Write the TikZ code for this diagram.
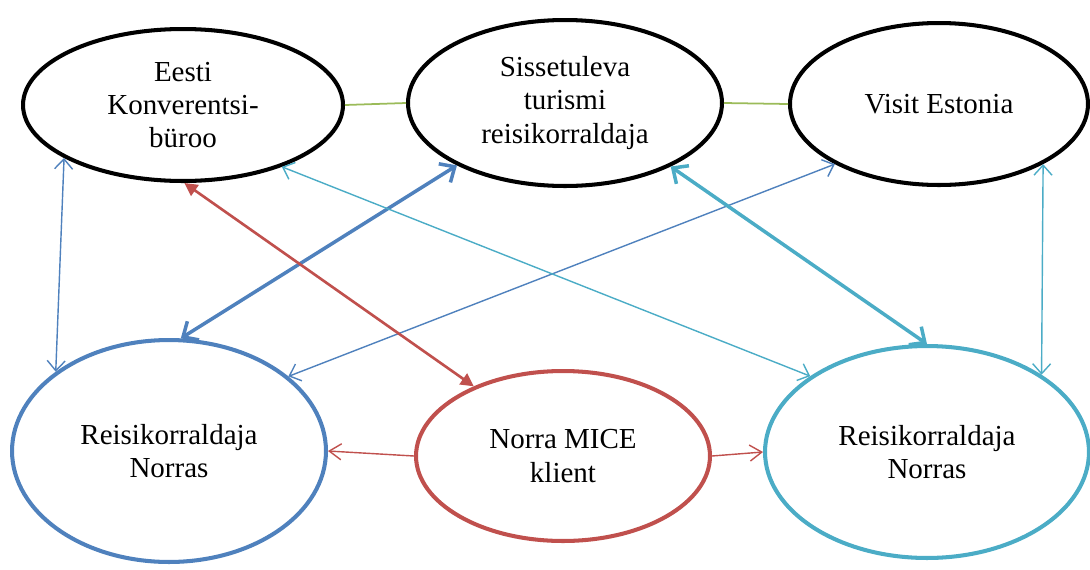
\documentclass[tikz,border=0pt]{standalone}
\usepackage{fontspec}
\setmainfont{Liberation Serif}
\usepackage{xcolor}
\usepackage{tikz}
\usetikzlibrary{shapes.geometric}
\usetikzlibrary{arrows.meta}

\definecolor{kblue}{HTML}{4F81BD}
\definecolor{kred}{HTML}{C0504D}
\definecolor{kteal}{HTML}{4BACC6}
\definecolor{kgreen}{HTML}{9BBB59}

\tikzset{
  osapool/.style={ellipse, draw, line width=2.3pt, inner sep=0pt, align=center,
    font=\fontsize{16.5}{19}\selectfont},
  peen/.style={line width=0.8pt, {Straight Barb[length=2mm,width=3.6mm]}-{Straight Barb[length=2mm,width=3.6mm]}},
  paks/.style={line width=2pt, {Straight Barb[length=2.4mm,width=4.4mm]}-{Straight Barb[length=2.4mm,width=4.4mm]}},
  yks/.style={line width=0.8pt, -{Straight Barb[length=2.4mm,width=3.2mm]}}
}

\begin{document}
\begin{tikzpicture}[x=0.02cm, y=-0.02cm]
\useasboundingbox (0,0) rectangle (1090,569);

\node[osapool, minimum width=6.4cm, minimum height=3.04cm] (ekb) at (183,105) {Eesti\\Konverentsi-\\büroo};            % ylemine rida
\node[osapool, minimum width=6.28cm, minimum height=3.32cm] (str) at (565,103) {Sissetuleva\\turismi\\reisikorraldaja};
\node[osapool, minimum width=5.96cm, minimum height=3.24cm] (ve) at (939,104) {Visit Estonia};

\node[osapool, draw=kblue, minimum width=6.28cm, minimum height=4.44cm] (rkv) at (169,451) {Reisikorraldaja\\Norras};   % alumine rida
\node[osapool, draw=kred, minimum width=5.88cm, minimum height=3.4cm] (mice) at (563,456) {Norra MICE\\klient};
\node[osapool, draw=kteal, minimum width=6.48cm, minimum height=4.24cm] (rkp) at (927,452) {Reisikorraldaja\\Norras};

\draw[kgreen, line width=1pt] (ekb.0) -- (str.180);            % rohelised
\draw[kgreen, line width=1pt] (str.0) -- (ve.180);

\draw[kblue, peen] (ekb.204) -- (rkv.145);                       % sinised
\draw[kblue, paks] (str.210) -- (rkv.84);
\draw[kblue, peen] (ve.210) -- (rkv.32);

\draw[kteal, peen] (ekb.328) -- (rkp.147);                       % helesinised
\draw[kteal, paks] (str.329) -- (rkp.90);
\draw[kteal, peen] (ve.330) -- (rkp.34);

\draw[kred, line width=1.5pt, {Triangle[length=2.6mm,width=2.6mm]}-{Triangle[length=2.6mm,width=2.6mm]}] (ekb.271) -- (mice.142);   % punased
\draw[kred, yks] (mice.180) -- (rkv.0);
\draw[kred, yks] (mice.0) -- (rkp.180);

\end{tikzpicture}
\end{document}
